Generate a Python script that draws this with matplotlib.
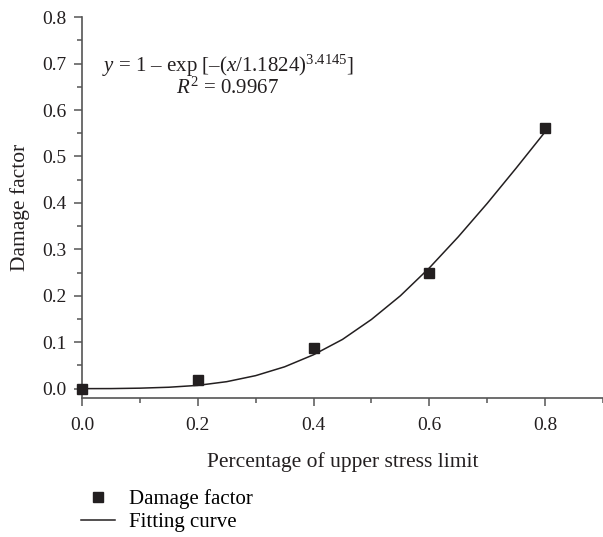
import matplotlib
matplotlib.use('Agg')
import matplotlib.pyplot as plt
from matplotlib.ticker import MultipleLocator
from matplotlib.lines import Line2D

plt.rcParams['font.family'] = ['Liberation Serif', 'DejaVu Serif']
plt.rcParams['mathtext.fontset'] = 'custom'
plt.rcParams['mathtext.rm'] = 'Liberation Serif'
plt.rcParams['mathtext.it'] = 'Liberation Serif:italic'

# measured points
stress = [0.0, 0.2, 0.4, 0.6, 0.8]
damage = [0.0, 0.019, 0.087, 0.25, 0.562]

# fitting curve, values
fit_x = [0.0, 0.05, 0.1, 0.15, 0.2, 0.25, 0.3, 0.35, 0.4, 0.45, 0.5,
         0.55, 0.6, 0.65, 0.7, 0.75, 0.8]
fit_y = [0.0, 0.0001, 0.001, 0.003, 0.007, 0.015, 0.028, 0.047, 0.073,
         0.106, 0.149, 0.200, 0.260, 0.327, 0.399, 0.475, 0.553]

ink = '#231f20'
axis_grey = '#555555'

fig = plt.figure(figsize=(6.03, 5.37), dpi=100)
ax = fig.add_axes([0.136, 0.259, 0.864, 0.709])

ax.plot(fit_x, fit_y, color=ink, lw=1.1)
ax.plot(stress, damage, 's', color=ink, ms=7, clip_on=False, zorder=3)

ax.set_xlim(0, 0.9)
ax.set_ylim(-0.02, 0.8)
ax.xaxis.set_minor_locator(MultipleLocator(0.1))
ax.yaxis.set_minor_locator(MultipleLocator(0.05))
ax.set_xticks([0, 0.2, 0.4, 0.6, 0.8])
ax.set_xticklabels(['0.0', '0.2', '0.4', '0.6', '0.8'])
ax.set_yticks([0, 0.1, 0.2, 0.3, 0.4, 0.5, 0.6, 0.7, 0.8])
ax.set_yticklabels(['0.0', '0.1', '0.2', '0.3', '0.4', '0.5', '0.6', '0.7', '0.8'])

for s in ['top', 'right']:
    ax.spines[s].set_visible(False)
for s in ['left', 'bottom']:
    ax.spines[s].set_color(axis_grey)
    ax.spines[s].set_linewidth(1.2)
ax.tick_params(which='major', direction='out', length=6, width=1.1,
               color=axis_grey, labelsize=14, labelcolor=ink, pad=5)
ax.tick_params(axis='x', which='major', pad=8)
ax.tick_params(which='minor', direction='out', length=3.6, width=1.1, color=axis_grey)

ax.set_xlabel('Percentage of upper stress limit', fontsize=15.5, color=ink, labelpad=13)
ax.set_ylabel('Damage factor', fontsize=15.5, color=ink, labelpad=9)

ax.text(0.035, 0.695, r'$y$ = 1 – exp [–($x$/1.1824)$^{3.4145}$]',
        fontsize=15, color=ink, ha='left', va='center')
ax.text(0.252, 0.648, r'$R^2$ = 0.9967', fontsize=15, color=ink,
        ha='center', va='center')

handles = [Line2D([], [], ls='none', marker='s', color=ink, ms=7),
           Line2D([], [], color=ink, lw=1.1)]
fig.legend(handles, ['Damage factor', 'Fitting curve'], loc='upper left',
           bbox_to_anchor=(0.135, 0.089), frameon=False, fontsize=15,
           handlelength=1.6, handletextpad=0.7, labelspacing=0.16,
           borderaxespad=0, borderpad=0)

fig.savefig('out.png', dpi=100)
